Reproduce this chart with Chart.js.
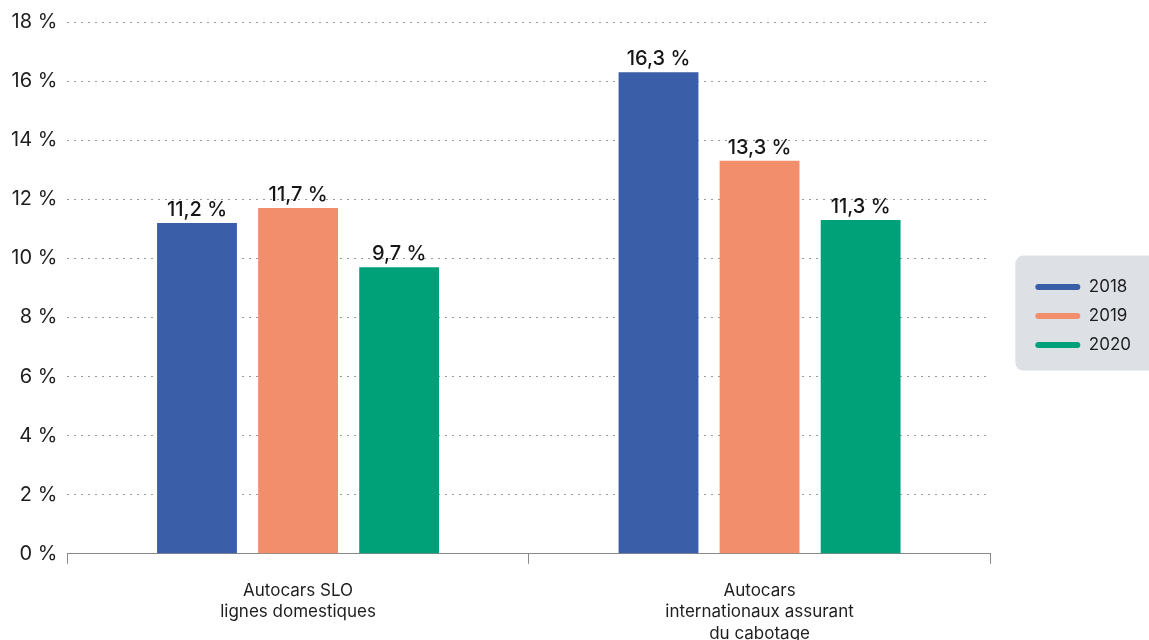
<!DOCTYPE html>
<html>
<head>
<meta charset="utf-8">
<script src="https://cdn.jsdelivr.net/npm/chart.js@4.4.0/dist/chart.umd.min.js"></script>
<style>
  html, body { margin: 0; padding: 0; background: #fff; }
  #wrap { width: 1149px; height: 640px; }
</style>
</head>
<body>
<div id="wrap"><canvas id="chart"></canvas></div>
<script>
// categories and values
const categories = [
  ['Autocars SLO', 'lignes domestiques'],
  ['Autocars', 'internationaux assurant', 'du cabotage']
]
const years = ['2018', '2019', '2020']
const values2018 = [11.2, 16.3]
const values2019 = [11.7, 13.3]
const values2020 = [9.7, 11.3]
const colors = ['#3a5ea8', '#f28e6b', '#00a079']

const FONT = 'Inter, "Noto Sans", sans-serif'

// value above each bar, french decimal comma
const barValues = {
  id: 'barValues',
  afterDatasetsDraw(chart) {
    const ctx = chart.ctx
    ctx.save()
    ctx.font = '500 20px ' + FONT
    ctx.fillStyle = '#161616'
    ctx.textAlign = 'center'
    ctx.textBaseline = 'bottom'
    chart.data.datasets.forEach((ds, i) => {
      chart.getDatasetMeta(i).data.forEach((bar, j) => {
        const txt = ds.data[j].toFixed(1).replace('.', ',') + ' %'
        ctx.fillText(txt, bar.x, bar.y - 3)
      })
    })
    ctx.restore()
  }
}

// grey rounded box behind the legend
const legendBox = {
  id: 'legendBox',
  beforeDraw(chart) {
    const lg = chart.legend
    if (!lg || !lg.legendHitBoxes.length) return
    const hb = lg.legendHitBoxes
    const x = hb[0].left - 20
    const y = hb[0].top - 23
    const h = hb[hb.length - 1].top + hb[hb.length - 1].height - hb[0].top + 40
    const ctx = chart.ctx
    ctx.save()
    ctx.fillStyle = '#dde1e6'
    ctx.beginPath()
    ctx.roundRect(x, y, chart.width - x + 10, h, 8)
    ctx.fill()
    ctx.restore()
  }
}

const ctx = document.getElementById('chart').getContext('2d')
new Chart(ctx, {
  type: 'bar',
  data: {
    labels: categories,
    datasets: [
      { label: years[0], data: values2018, backgroundColor: colors[0] },
      { label: years[1], data: values2019, backgroundColor: colors[1] },
      { label: years[2], data: values2020, backgroundColor: colors[2] }
    ]
  },
  options: {
    responsive: true,
    maintainAspectRatio: false,
    animation: false,
    categoryPercentage: 0.657,
    barPercentage: 0.79,
    layout: { padding: { top: 16, right: 8, left: 1, bottom: -21 } },
    plugins: {
      tooltip: { enabled: false },
      legend: {
        position: 'right',
        fullSize: false,
        // empty title only pushes the items down a bit
        title: { display: true, text: '', font: { size: 12 }, padding: 21 },
        labels: {
          boxWidth: 45,
          boxHeight: 6,
          useBorderRadius: true,
          borderRadius: 3,
          padding: 12,
          color: '#1e1e1e',
          font: { family: FONT, size: 17 }
        }
      }
    },
    scales: {
      x: {
        grid: { drawOnChartArea: false, color: '#888', tickLength: 10 },
        border: { color: '#888' },
        ticks: {
          color: '#1e1e1e',
          padding: 17,
          font: { family: FONT, size: 17, lineHeight: 1.24 }
        }
      },
      y: {
        min: 0,
        max: 18,
        ticks: {
          stepSize: 2,
          padding: 10,
          color: '#1e1e1e',
          font: { family: FONT, size: 20 },
          callback: v => v + ' %'
        },
        grid: { color: '#9a9a9a', drawTicks: false },
        border: { display: false, dash: [2, 5] }
      },
      // spacer between the plot and the legend
      gap: {
        position: 'right',
        display: true,
        grid: { display: false },
        ticks: { display: false },
        border: { display: false },
        afterFit: s => { s.width = 33 }
      }
    }
  },
  plugins: [barValues, legendBox]
})
</script>
</body>
</html>
